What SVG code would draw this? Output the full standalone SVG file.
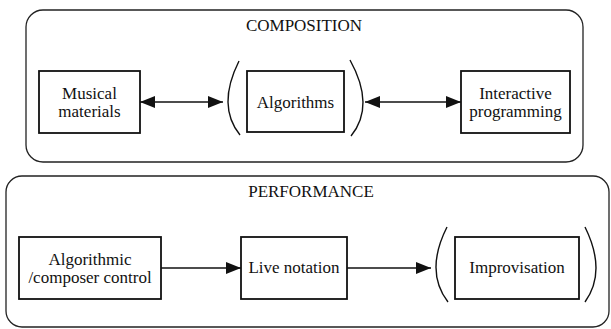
<svg xmlns="http://www.w3.org/2000/svg" width="611" height="329" viewBox="0 0 611 329">
<style>
.frame{fill:none;stroke:#222;stroke-width:1.3}
.box{fill:#fff;stroke:#111;stroke-width:1.8}
.paren{fill:none;stroke:#111;stroke-width:1.4}
.conn{fill:none;stroke:#111;stroke-width:1.6}
.t{font-family:'Liberation Serif','DejaVu Serif','Times New Roman',Times,serif;font-size:17px;fill:#111;text-anchor:middle}
</style>
<defs>
<marker id="ah" markerUnits="userSpaceOnUse" markerWidth="15" markerHeight="12" refX="15" refY="6" orient="auto-start-reverse">
<path d="M0,0 L15,6 L0,12 z" fill="#111"/>
</marker>
</defs>
<rect id="composition" class="frame" x="26" y="10" width="557" height="152" rx="17"/>
<text class="t" x="304" y="31" font-family="Liberation Serif, serif">COMPOSITION</text>
<rect id="performance" class="frame" x="6" y="176" width="603" height="151" rx="16"/>
<text class="t" x="311" y="197" font-family="Liberation Serif, serif">PERFORMANCE</text>
<g id="connectors">
<line class="conn" x1="140" y1="102" x2="223" y2="102" marker-start="url(#ah)" marker-end="url(#ah)"/>
<line class="conn" x1="365" y1="102" x2="461" y2="102" marker-start="url(#ah)" marker-end="url(#ah)"/>
<line class="conn" x1="161" y1="268" x2="241" y2="268" marker-end="url(#ah)"/>
<line class="conn" x1="347" y1="268" x2="431" y2="268" marker-end="url(#ah)"/>
</g>
<g id="musical-materials">
<rect class="box" x="39" y="71" width="101" height="62"/>
<text class="t" x="89.5" y="98.5" font-family="Liberation Serif, serif">Musical</text>
<text class="t" x="89.5" y="116.5" font-family="Liberation Serif, serif">materials</text>
</g>
<g id="algorithms">
<path class="paren" d="M239,61 Q216.5,106 240,135"/>
<rect class="box" x="247" y="71" width="97" height="61"/>
<text class="t" x="295.5" y="107.5" font-family="Liberation Serif, serif">Algorithms</text>
<path class="paren" d="M350,60 Q375.5,106 351,136"/>
</g>
<g id="interactive-programming">
<rect class="box" x="461" y="71" width="109" height="62"/>
<text class="t" x="515.5" y="98.5" font-family="Liberation Serif, serif">Interactive</text>
<text class="t" x="515.5" y="116.5" font-family="Liberation Serif, serif">programming</text>
</g>
<g id="algorithmic-control">
<rect class="box" x="19" y="237" width="142" height="62"/>
<text class="t" x="90" y="264.5" font-family="Liberation Serif, serif">Algorithmic</text>
<text class="t" x="90" y="282.5" font-family="Liberation Serif, serif">/composer control</text>
</g>
<g id="live-notation">
<rect class="box" x="241" y="237" width="106" height="62"/>
<text class="t" x="294" y="273" font-family="Liberation Serif, serif">Live notation</text>
</g>
<g id="improvisation">
<path class="paren" d="M447,227 Q424.5,271.5 448,302"/>
<rect class="box" x="455" y="237" width="124" height="62"/>
<text class="t" x="517" y="273" font-family="Liberation Serif, serif">Improvisation</text>
<path class="paren" d="M585,227 Q607,271.5 585,302"/>
</g>
</svg>
